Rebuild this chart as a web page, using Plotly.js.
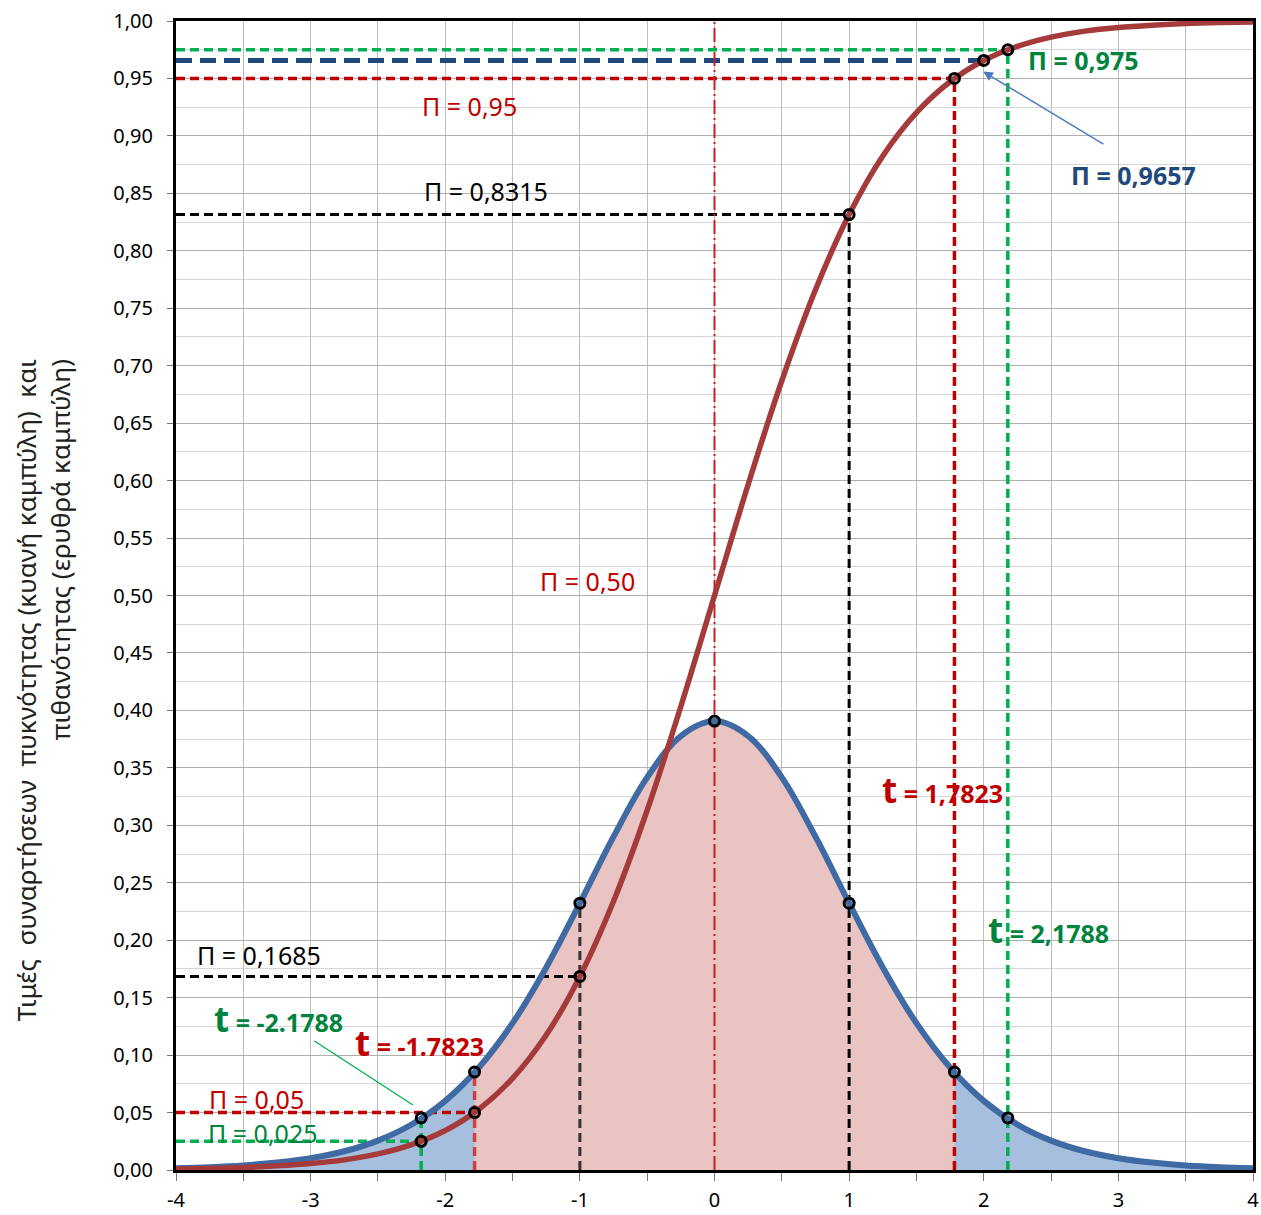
<!DOCTYPE html>
<html>
<head>
<meta charset="utf-8">
<script src="https://cdn.plot.ly/plotly-3.0.1.min.js"></script>
<style>html,body{margin:0;padding:0;background:#fff;}#chart{width:1261px;height:1215px;}</style>
</head>
<body>
<div id="chart"></div>
<script>
// ---- data ----
const xVals = [-4, -3.75, -3.5, -3.25, -3, -2.75, -2.5, -2.25, -2, -1.75, -1.5, -1.25, -1, -0.75, -0.5, -0.25, 0,
               0.25, 0.5, 0.75, 1, 1.25, 1.5, 1.75, 2, 2.25, 2.5, 2.75, 3, 3.25, 3.5, 3.75, 4];
const densityVals = [0.0016, 0.0025, 0.0040, 0.0065, 0.0103, 0.0163, 0.0256, 0.0396, 0.0602, 0.0892, 0.1278, 0.1763,
                     0.2322, 0.2901, 0.3417, 0.3777, 0.3907, 0.3777, 0.3417, 0.2901, 0.2322, 0.1763, 0.1278, 0.0892,
                     0.0602, 0.0396, 0.0256, 0.0163, 0.0103, 0.0065, 0.0040, 0.0025, 0.0016];
const probVals = [0.0009, 0.0014, 0.0022, 0.0036, 0.0056, 0.0088, 0.0140, 0.0221, 0.0344, 0.0529, 0.0798, 0.1175,
                  0.1685, 0.2339, 0.3131, 0.4034, 0.5000, 0.5966, 0.6869, 0.7661, 0.8315, 0.8825, 0.9202, 0.9471,
                  0.9656, 0.9779, 0.9860, 0.9912, 0.9944, 0.9964, 0.9978, 0.9986, 0.9991];

// key points (t value, density at t, probability at t)
const tPoints   = [-2.1788, -1.7823, -1, 0, 1, 1.7823, 2, 2.1788];
const tDensity  = [0.0453, 0.0853, 0.2322, 0.3907, 0.2322, 0.0853, 0.0602, 0.0453];
const tProb     = [0.025, 0.05, 0.1685, 0.50, 0.8315, 0.95, 0.9657, 0.975];

const t95 = 1.7823, dens95 = 0.0853;

// x tick labels (hyphen minus as in the original)
const xTickVals = [-4, -3.5, -3, -2.5, -2, -1.5, -1, -0.5, 0, 0.5, 1, 1.5, 2, 2.5, 3, 3.5, 4];
const xTickText = ['-4', '', '-3', '', '-2', '', '-1', '', '0', '', '1', '', '2', '', '3', '', '4'];

// ---- styles ----
const RED = '#c00000', GREEN = '#00b050', DKGREEN = '#00843d', NAVY = '#1f497d', BLACK = '#000000';
const FONT = 'Noto Sans, Open Sans, sans-serif';

const traces = [];
traces.push({x: xVals, y: densityVals, type: 'scatter', mode: 'lines', line: {width: 0, shape: 'spline'},
  fill: 'tozeroy', fillcolor: '#a7bfde', hoverinfo: 'skip', showlegend: false});
const midX = [-t95], midY = [dens95];
xVals.forEach((x, i) => { if (x > -t95 && x < t95) { midX.push(x); midY.push(densityVals[i]); } });
midX.push(t95); midY.push(dens95);
traces.push({x: midX, y: midY, type: 'scatter', mode: 'lines', line: {width: 0, shape: 'spline'},
  fill: 'tozeroy', fillcolor: '#eac3c3', hoverinfo: 'skip', showlegend: false});

function ln(xs, ys, color, width, dash) {
  traces.push({x: xs, y: ys, type: 'scatter', mode: 'lines', line: {color: color, width: width, dash: dash},
    hoverinfo: 'skip', showlegend: false});
}
const xmin = -4;
const dsh = '9px,5px';
ln([xmin, tPoints[7]], [tProb[7], tProb[7]], GREEN, 3.5, dsh);
ln([tPoints[7], tPoints[7]], [0, tProb[7]], GREEN, 3.5, dsh);
ln([xmin, tPoints[6]], [tProb[6], tProb[6]], NAVY, 5, '16px,8px');
ln([xmin, tPoints[5]], [tProb[5], tProb[5]], RED, 3.5, dsh);
ln([tPoints[5], tPoints[5]], [0, tProb[5]], RED, 3.5, dsh);
ln([xmin, tPoints[4]], [tProb[4], tProb[4]], BLACK, 3, dsh);
ln([tPoints[4], tPoints[4]], [0, tProb[4]], BLACK, 3, dsh);
ln([xmin, tPoints[2]], [tProb[2], tProb[2]], BLACK, 3, dsh);
ln([tPoints[2], tPoints[2]], [0, tDensity[2]], '#333333', 3, dsh);
ln([xmin, tPoints[1]], [tProb[1], tProb[1]], RED, 3.5, dsh);
ln([tPoints[1], tPoints[1]], [0, tDensity[1]], '#d04040', 3.5, dsh);
ln([xmin, tPoints[0]], [tProb[0], tProb[0]], GREEN, 3.5, dsh);
ln([tPoints[0], tPoints[0]], [0, tDensity[0]], GREEN, 3.5, dsh);
ln([tPoints[3], tPoints[3]], [0, 1], '#c82020', 2, '14px,4px,2px,4px');

traces.push({x: xVals, y: densityVals, type: 'scatter', mode: 'lines', line: {color: '#3f6aa3', width: 6, shape: 'spline'},
  hoverinfo: 'skip', showlegend: false});
traces.push({x: xVals, y: probVals, type: 'scatter', mode: 'lines', line: {color: '#a53a3a', width: 5.5, shape: 'spline'},
  hoverinfo: 'skip', showlegend: false});

const mx = [], my = [];
[0, 1, 2, 3, 4, 5, 7].forEach(i => { mx.push(tPoints[i]); my.push(tDensity[i]); });
[0, 1, 2, 4, 5, 6, 7].forEach(i => { mx.push(tPoints[i]); my.push(tProb[i]); });
traces.push({x: mx, y: my, type: 'scatter', mode: 'markers',
  marker: {symbol: 'circle-open', size: 10, color: '#000', line: {width: 3, color: '#000'}},
  hoverinfo: 'skip', showlegend: false});

function ann(x, y, text, color, bold, size) {
  return {x: x, y: y, xref: 'x', yref: 'y', text: bold ? '<b>' + text + '</b>' : text, showarrow: false,
    font: {family: FONT, size: size || 25, color: color}, xanchor: 'center', yanchor: 'middle'};
}
const bigT = s => '<span style="font-size:35px">t</span>' + s;

const annotations = [
  ann(2.74, 0.966, 'Π = 0,975', DKGREEN, true, 25),
  ann(-1.82, 0.926, 'Π = 0,95', RED, false),
  ann(3.11, 0.866, 'Π = 0,9657', NAVY, true, 25),
  ann(-1.70, 0.852, 'Π = 0,8315', BLACK, false),
  ann(-0.94, 0.513, 'Π = 0,50', RED, false),
  ann(1.69, 0.331, bigT(' = 1,7823'), RED, true, 25),
  ann(2.48, 0.209, bigT(' = 2,1788'), DKGREEN, true, 25),
  ann(-3.38, 0.187, 'Π = 0,1685', BLACK, false),
  ann(-3.24, 0.132, bigT(' = -2.1788'), DKGREEN, true, 25),
  ann(-2.19, 0.111, bigT(' = -1.7823'), RED, true, 25),
  ann(-3.40, 0.062, 'Π = 0,05', RED, false),
  ann(-3.36, 0.032, 'Π = 0,025', DKGREEN, false),
  {x: 1.995, y: 0.956, ax: 2.90, ay: 0.892, axref: 'x', ayref: 'y', xref: 'x', yref: 'y', text: '',
   showarrow: true, arrowhead: 2, arrowsize: 1.3, arrowwidth: 1.5, arrowcolor: '#4a7cc0'},
  {x: -2.24, y: 0.0566, ax: -2.983, ay: 0.1131, axref: 'x', ayref: 'y', xref: 'x', yref: 'y', text: '',
   showarrow: true, arrowhead: 0, arrowwidth: 1.3, arrowcolor: '#00b050'},
  {x: -0.124, y: 0.418, xref: 'paper', yref: 'paper', showarrow: false, textangle: -90, align: 'right',
   xanchor: 'center', yanchor: 'middle',
   text: 'Τιμές  συναρτήσεων  πυκνότητας (κυανή καμπύλη)  και<br>πιθανότητας (ερυθρά καμπύλη)',
   font: {family: FONT, size: 26, color: '#222'}}
];

const layout = {
  width: 1261, height: 1215,
  margin: {l: 176, r: 8, t: 21, b: 45},
  paper_bgcolor: '#fff', plot_bgcolor: '#fff',
  separators: ',.',
  font: {family: FONT, size: 20, color: '#000'},
  showlegend: false,
  xaxis: {range: [-4, 4], tickmode: 'array', tickvals: xTickVals, ticktext: xTickText,
    showgrid: true, gridcolor: '#bdbdbd', gridwidth: 1,
    zeroline: false, showline: true, linecolor: '#000', linewidth: 3, mirror: true,
    ticks: 'outside', ticklen: 8, tickcolor: '#777', ticklabelstandoff: 2,
    tickfont: {family: FONT, size: 20}},
  yaxis: {range: [0, 1], dtick: 0.05, tickformat: '.2f', showgrid: true, gridcolor: '#b0b0b0', gridwidth: 1,
    minor: {dtick: 0.025, showgrid: true, gridcolor: '#d6d6d6', gridwidth: 1},
    zeroline: false, showline: true, linecolor: '#000', linewidth: 3, mirror: true,
    ticks: 'outside', ticklen: 6, tickcolor: '#777', ticklabelstandoff: 10,
    tickfont: {family: FONT, size: 20}},
  annotations: annotations
};

Plotly.newPlot('chart', traces, layout, {displayModeBar: false, staticPlot: true});
</script>
</body>
</html>
